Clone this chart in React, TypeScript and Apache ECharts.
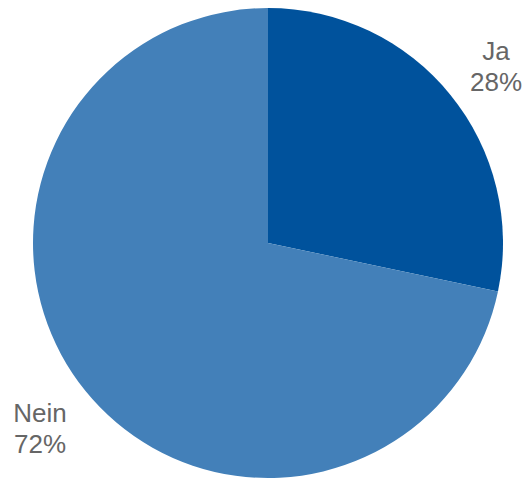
import React, { useEffect, useRef } from "react";
import * as echarts from "echarts";

const categories = ["Ja", "Nein"];
const values = [28.3, 71.7];
const colors = ["#00529C", "#4380B9"];

const labelPos: Record<number, { x: number; y: number; align: string }> = {
  0: { x: 496, y: 66, align: "center" },
  1: { x: 40, y: 428, align: "center" },
};

export default function App() {
  const ref = useRef<HTMLDivElement>(null);
  useEffect(() => {
    if (!ref.current) return;
    const chart = echarts.init(ref.current, undefined, { renderer: "svg" });
    chart.setOption({
      animation: false,
      series: [
        {
          type: "pie",
          center: [268, 243],
          radius: 235,
          startAngle: 90,
          clockwise: true,
          percentPrecision: 0,
          avoidLabelOverlap: false,
          data: categories.map((c, i) => ({
            name: c,
            value: values[i],
            itemStyle: { color: colors[i] },
          })),
          label: {
            show: true,
            position: "inside",
            formatter: "{b}\n{d}%",
            color: "#666666",
            fontSize: 26,
            lineHeight: 31,
            overflow: "none",
            fontFamily: "Liberation Sans, Arial, sans-serif",
          },
          labelLine: { show: false },
          labelLayout: (params: any) => ({
            x: labelPos[params.dataIndex].x,
            y: labelPos[params.dataIndex].y,
            align: labelPos[params.dataIndex].align,
            verticalAlign: "middle",
          }),
          emphasis: { disabled: true },
        },
      ],
    });
    return () => chart.dispose();
  }, []);
  return (
    <div
      ref={ref}
      style={{ position: "absolute", left: 0, top: 0, width: 526, height: 479 }}
    />
  );
}
